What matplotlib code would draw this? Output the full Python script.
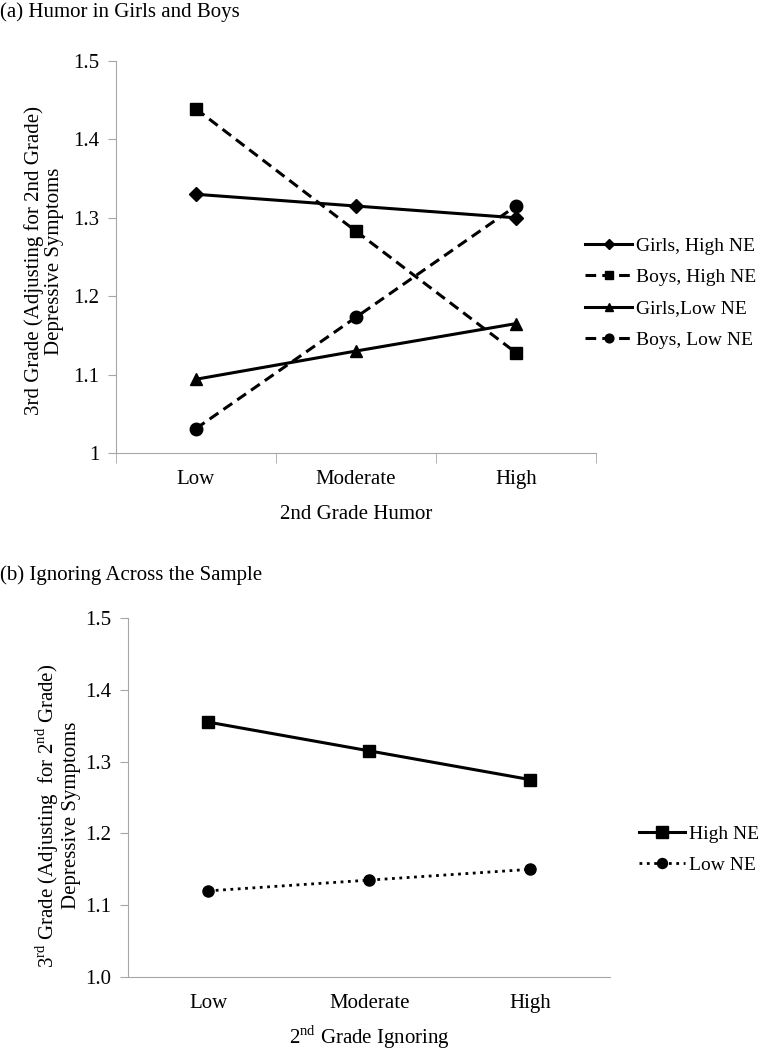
import matplotlib
matplotlib.use('Agg')
from matplotlib import pyplot as plt
from matplotlib.ticker import FixedLocator

plt.rcParams['font.family'] = ['Liberation Serif', 'DejaVu Serif']
plt.rcParams['mathtext.fontset'] = 'custom'
plt.rcParams['mathtext.rm'] = 'Liberation Serif'

# data
levels = ['Low', 'Moderate', 'High']

girls_high_ne = [1.330, 1.315, 1.300]
boys_high_ne = [1.439, 1.283, 1.128]
girls_low_ne = [1.094, 1.130, 1.165]
boys_low_ne = [1.031, 1.173, 1.315]

ign_high_ne = [1.355, 1.315, 1.275]
ign_low_ne = [1.120, 1.135, 1.150]

AXIS_GRAY = '#a6a6a6'
FS = 15
LEG_FS = 14


def style_axes(ax, yticks, ylabels, boundary_ticks):
    ax.spines['top'].set_visible(False)
    ax.spines['right'].set_visible(False)
    ax.spines['left'].set_color(AXIS_GRAY)
    ax.spines['bottom'].set_color(AXIS_GRAY)
    ax.set_xlim(-0.5, 2.5)
    ax.set_ylim(1.0, 1.5)
    ax.set_xticks(range(len(levels)))
    ax.set_xticklabels(levels, fontsize=FS)
    ax.tick_params(axis='x', length=0, pad=12)
    if boundary_ticks:
        ax.xaxis.set_minor_locator(FixedLocator([-0.5, 0.5, 1.5, 2.5]))
        ax.tick_params(axis='x', which='minor', length=7, color=AXIS_GRAY)
    ax.set_yticks(yticks)
    ax.set_yticklabels(ylabels, fontsize=FS)
    ax.tick_params(axis='y', length=6, color=AXIS_GRAY, pad=6)


fig = plt.figure(figsize=(7.62, 10.5), dpi=100)

# (a) Humor in Girls and Boys
ax1 = fig.add_axes([0.152, 0.5686, 0.63, 0.3733])
ax1.plot(levels, girls_high_ne, color='black', lw=2.2, marker='D', ms=7,
         label='Girls, High NE')
ax1.plot(levels, boys_high_ne, color='black', lw=2.2, ls=(0, (3.5, 2)),
         marker='s', ms=9, label='Boys, High NE')
ax1.plot(levels, girls_low_ne, color='black', lw=2.2, marker='^', ms=9,
         label='Girls,Low NE')
ax1.plot(levels, boys_low_ne, color='black', lw=2.2, ls=(0, (3.5, 2)),
         marker='o', ms=9, label='Boys, Low NE')
style_axes(ax1, [1.0, 1.1, 1.2, 1.3, 1.4, 1.5],
           ['1', '1.1', '1.2', '1.3', '1.4', '1.5'], True)
ax1.set_xlabel('2nd Grade Humor', fontsize=FS, labelpad=12)
ax1.set_ylabel('3rd Grade (Adjusting for 2nd Grade)\nDepressive Symptoms',
               fontsize=FS, linespacing=1.05, va='center')
ax1.yaxis.set_label_coords(-0.15, 0.49)
fig.legend(handles=ax1.get_lines(), loc='center left',
           bbox_to_anchor=(0.768, 0.721), frameon=False, fontsize=LEG_FS,
           handlelength=2.4, handletextpad=0.2, labelspacing=0.7,
           markerscale=0.7, borderpad=0, borderaxespad=0)
fig.text(0.0, 0.9886, '(a) Humor in Girls and Boys', fontsize=FS,
         va='center', ha='left')

# (b) Ignoring Across the Sample
ax2 = fig.add_axes([0.168, 0.0695, 0.633, 0.3419])
ax2.plot(levels, ign_high_ne, color='black', lw=2.2, marker='s', ms=9,
         label='High NE')
ax2.plot(levels, ign_low_ne, color='black', lw=2.0, ls=':', marker='o',
         ms=8, label='Low NE')
style_axes(ax2, [1.0, 1.1, 1.2, 1.3, 1.4, 1.5],
           ['1.0', '1.1', '1.2', '1.3', '1.4', '1.5'], False)
ax2.set_xlabel('2$^{\\mathrm{nd}}$ Grade Ignoring', fontsize=FS, labelpad=8)
ax2.set_ylabel('3$^{\\mathrm{rd}}$ Grade (Adjusting  for 2$^{\\mathrm{nd}}$ Grade)\nDepressive Symptoms',
               fontsize=FS, linespacing=1.05, va='center')
ax2.yaxis.set_label_coords(-0.147, 0.45)
fig.legend(handles=ax2.get_lines(), loc='center left',
           bbox_to_anchor=(0.838, 0.191), frameon=False, fontsize=LEG_FS,
           handlelength=2.4, handletextpad=0.2, labelspacing=0.7,
           markerscale=0.9, borderpad=0, borderaxespad=0)
fig.text(0.0, 0.452, '(b) Ignoring Across the Sample', fontsize=FS,
         va='center', ha='left')

fig.savefig('out.png', dpi=100)
